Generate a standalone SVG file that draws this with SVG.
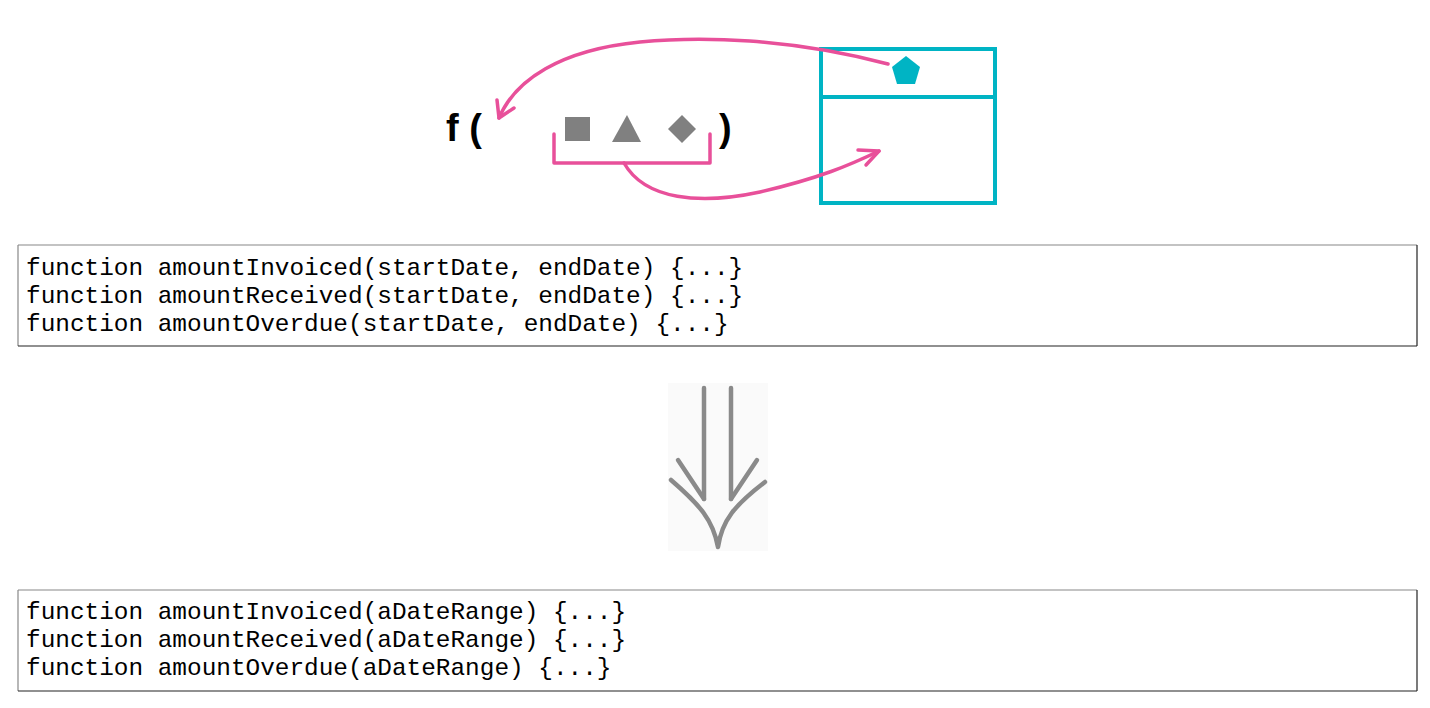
<svg xmlns="http://www.w3.org/2000/svg" width="1430" height="708" viewBox="0 0 1430 708">
<style>
.code{font-family:"Liberation Mono","DejaVu Sans Mono",monospace;font-size:24.4px;fill:#000}
.pink{fill:none;stroke:#e8509a;stroke-width:3.5;stroke-linecap:round;stroke-linejoin:round}
.cyan{fill:none;stroke:#00b4c4;stroke-width:4}
.gray{fill:#808080}
.garrow{fill:none;stroke:#8a8a8a;stroke-width:4.5;stroke-linecap:round;stroke-linejoin:round}
.bl{stroke:#888;stroke-width:1.2}
.br{stroke:#222;stroke-width:1.2}
.paren{font-family:"Liberation Sans",Arial,sans-serif;font-weight:bold;font-size:38px;fill:#000}
</style>
<rect width="1430" height="708" fill="#fff"/>
<g id="fcall">
<text class="paren" x="446" y="141">f (</text>
<text class="paren" x="719" y="141">)</text>
<rect class="gray" x="565" y="117" width="25" height="24"/>
<polygon class="gray" points="627,115 612,142 641,142"/>
<polygon class="gray" points="682,115 696,129 682,143 668,129"/>
<polyline class="pink" points="554,134 554,163 710,163 710,134"/>
</g>
<g id="record">
<rect class="cyan" x="821" y="49" width="174" height="154"/>
<line class="cyan" x1="821" y1="97" x2="995" y2="97"/>
<polygon fill="#00b4c4" points="906,56 920,67 915,84 897,84 892,67"/>
</g>
<g id="connectors">
<path class="pink" d="M888,64 C790,38 700,36 640,42 C560,50 515,80 499,118"/>
<polyline class="pink" points="497,100 499,118 514,108"/>
<path class="pink" d="M624,163 C645,200 700,205 760,192 C820,178 850,165 879,151"/>
<polyline class="pink" points="858,150 879,151 866,165"/>
</g>
<g id="box1">
<rect x="18" y="245" width="1399" height="101" fill="#fff"/>
<line class="bl" x1="18" y1="245" x2="1417" y2="245"/>
<line class="bl" x1="18" y1="245" x2="18" y2="346"/>
<line class="br" x1="1417" y1="245" x2="1417" y2="346"/>
<line class="br" x1="18" y1="346" x2="1417" y2="346"/>
<text class="code" x="26" y="275">function amountInvoiced(startDate, endDate) {...}</text>
<text class="code" x="26" y="303">function amountReceived(startDate, endDate) {...}</text>
<text class="code" x="26" y="331">function amountOverdue(startDate, endDate) {...}</text>
</g>
<g id="transform">
<rect x="668" y="383" width="100" height="168" fill="#fafafa"/>
<line class="garrow" x1="704" y1="388" x2="704" y2="499"/>
<line class="garrow" x1="731" y1="388" x2="731" y2="499"/>
<line class="garrow" x1="678" y1="460" x2="704" y2="499"/>
<line class="garrow" x1="757" y1="460" x2="731" y2="499"/>
<path class="garrow" d="M671,480 C700,505 713,520 718,547 C722,520 735,505 765,482"/>
</g>
<g id="box2">
<rect x="18" y="590" width="1399" height="101" fill="#fff"/>
<line class="bl" x1="18" y1="590" x2="1417" y2="590"/>
<line class="bl" x1="18" y1="590" x2="18" y2="691"/>
<line class="br" x1="1417" y1="590" x2="1417" y2="691"/>
<line class="br" x1="18" y1="691" x2="1417" y2="691"/>
<text class="code" x="26" y="619">function amountInvoiced(aDateRange) {...}</text>
<text class="code" x="26" y="647">function amountReceived(aDateRange) {...}</text>
<text class="code" x="26" y="675">function amountOverdue(aDateRange) {...}</text>
</g>
</svg>
